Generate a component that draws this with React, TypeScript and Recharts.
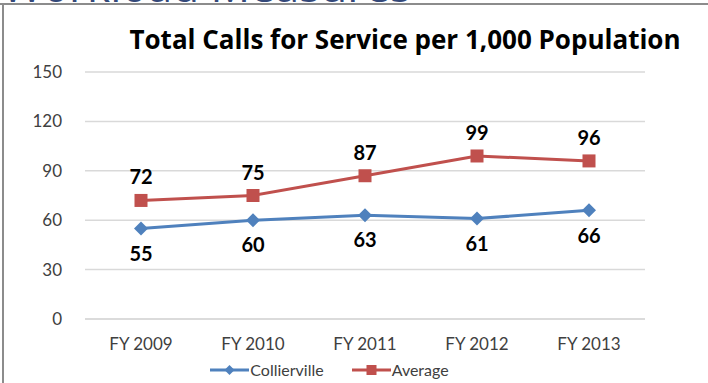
import { LineChart, Line, XAxis, YAxis, CartesianGrid, Legend, LabelList } from "recharts";

const YEARS = ["FY 2009", "FY 2010", "FY 2011", "FY 2012", "FY 2013"];
const COLLIERVILLE = [55, 60, 63, 61, 66];
const AVERAGE = [72, 75, 87, 99, 96];
const Y_TICKS = [0, 30, 60, 90, 120, 150];

const BLUE = "#4F81BD";
const RED = "#C0504D";
const FONT = "Lato, 'Open Sans', sans-serif";

const data = YEARS.map((year, i) => ({
  year,
  collierville: COLLIERVILLE[i],
  average: AVERAGE[i],
}));

function Diamond(props: any) {
  const { cx, cy } = props;
  if (cx == null || cy == null) return null;
  const r = 7;
  return (
    <polygon
      points={`${cx},${cy - r} ${cx + r},${cy} ${cx},${cy + r} ${cx - r},${cy}`}
      fill={BLUE}
    />
  );
}

function Square(props: any) {
  const { cx, cy } = props;
  if (cx == null || cy == null) return null;
  const s = 13;
  return <rect x={cx - s / 2} y={cy - s / 2} width={s} height={s} fill={RED} />;
}

function LegendContent() {
  const items = [
    { name: "Collierville", color: BLUE, shape: "diamond" },
    { name: "Average", color: RED, shape: "square" },
  ];
  return (
    <div style={{ display: "flex", justifyContent: "center", gap: 28, fontFamily: FONT, fontSize: 16, color: "#404040", marginLeft: 14, marginTop: 2 }}>
      {items.map((it) => (
        <div key={it.name} style={{ display: "flex", alignItems: "center", gap: 1 }}>
          <svg width={39} height={14}>
            <line x1={0} y1={7} x2={39} y2={7} stroke={it.color} strokeWidth={3} />
            {it.shape === "diamond" ? (
              <polygon points="19.5,2 24.5,7 19.5,12 14.5,7" fill={it.color} />
            ) : (
              <rect x={14.5} y={2} width={10} height={10} fill={it.color} />
            )}
          </svg>
          <span>{it.name}</span>
        </div>
      ))}
    </div>
  );
}

export default function App() {
  return (
    <div style={{ position: "fixed", left: 0, top: 0, width: 708, height: 383, overflow: "hidden", background: "#fff" }}>
      <div style={{ position: "absolute", left: 0, top: 0 }}>
        <LineChart width={708} height={383} data={data} margin={{ top: 72, right: 63, bottom: 5, left: 0 }}>
          <CartesianGrid vertical={false} stroke="#D9D9D9" strokeWidth={1.5} />
          <XAxis
            dataKey="year"
            height={39}
            padding={{ left: 56, right: 56 }}
            axisLine={{ stroke: "#D9D9D9", strokeWidth: 1.5 }}
            tickLine={false}
            tickMargin={13}
            tick={{ fontFamily: FONT, fontSize: 17, fill: "#404040" }}
          />
          <YAxis
            width={85}
            domain={[0, 150]}
            ticks={Y_TICKS}
            axisLine={false}
            tickLine={false}
            tickMargin={17}
            tick={{ fontFamily: FONT, fontSize: 17, fill: "#404040" }}
          />
          <Legend verticalAlign="bottom" height={20} content={<LegendContent />} />
          <Line
            dataKey="collierville"
            name="Collierville"
            stroke={BLUE}
            strokeWidth={3}
            dot={<Diamond />}
            activeDot={false}
            isAnimationActive={false}
          >
            <LabelList
              dataKey="collierville"
              position="bottom"
              offset={18}
              style={{ fontFamily: FONT, fontSize: 20, fontWeight: 700, fill: "#000" }}
            />
          </Line>
          <Line
            dataKey="average"
            name="Average"
            stroke={RED}
            strokeWidth={3}
            dot={<Square />}
            activeDot={false}
            isAnimationActive={false}
          >
            <LabelList
              dataKey="average"
              position="top"
              offset={16}
              style={{ fontFamily: FONT, fontSize: 20, fontWeight: 700, fill: "#000" }}
            />
          </Line>
        </LineChart>
      </div>
      <div
        style={{
          position: "absolute",
          left: 2,
          top: -39,
          fontFamily: "'Open Sans', sans-serif",
          fontSize: 44,
          lineHeight: "48px",
          color: "#34497A",
          whiteSpace: "nowrap",
        }}
      >
        Workload Measures
      </div>
      <div style={{ position: "absolute", left: 0, top: 3, width: 708, height: 2, background: "#8C8C8C" }} />
      <div style={{ position: "absolute", left: 2, top: 3, width: 2, height: 380, background: "#8C8C8C" }} />
      <div
        style={{
          position: "absolute",
          left: 80,
          width: 650,
          top: 21,
          textAlign: "center",
          fontFamily: "'Open Sans', sans-serif",
          fontWeight: 700,
          fontSize: 26,
          color: "#000",
          whiteSpace: "nowrap",
        }}
      >
        Total Calls for Service per 1,000 Population
      </div>
    </div>
  );
}
